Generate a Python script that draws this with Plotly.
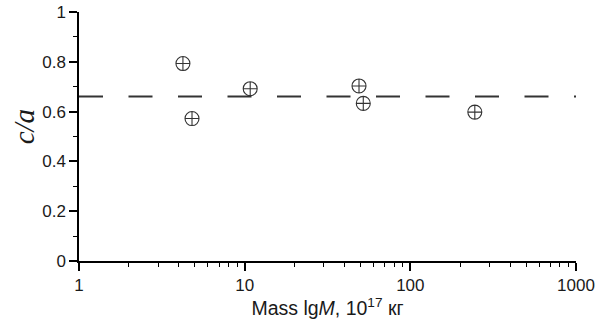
import plotly.graph_objects as go

mass = [4.24, 4.81, 10.8, 49.0, 52.0, 245.0]
ratio = [0.793, 0.572, 0.692, 0.703, 0.633, 0.598]
mean_ratio = 0.661
x_range = [1, 1000]
y_ticks = [0, 0.2, 0.4, 0.6, 0.8, 1]
y_ticklabels = ["0", "0.2", "0.4", "0.6", "0.8", "1"]
x_ticks = [1, 10, 100, 1000]
x_ticklabels = ["1", "10", "100", "1000"]

fig = go.Figure()
fig.add_trace(go.Scatter(
    x=x_range, y=[mean_ratio, mean_ratio], mode="lines",
    line=dict(color="#333333", width=2, dash="24px,25.5px"),
    showlegend=False, hoverinfo="skip"))
fig.add_trace(go.Scatter(
    x=mass, y=ratio, mode="markers",
    marker=dict(symbol="circle-cross-open", size=14, color="#333333",
                line=dict(width=1.1, color="#333333")),
    showlegend=False))

axis_font = dict(family="Liberation Sans, Arial", size=17, color="#1a1a1a")
title_font = dict(family="Liberation Sans, Arial", size=19.5, color="#1a1a1a")
fig.update_layout(
    width=605, height=324,
    margin=dict(l=79, r=29, t=12, b=63),
    paper_bgcolor="white", plot_bgcolor="white",
    xaxis=dict(type="log", range=[0, 3], tickvals=x_ticks, ticktext=x_ticklabels,
               automargin=False,
               showgrid=False, zeroline=False, showline=True, linecolor="black",
               linewidth=1.5, ticks="outside", ticklen=8, tickwidth=1.5,
               tickcolor="black", tickfont=axis_font,
               minor=dict(ticks="outside", ticklen=4, tickwidth=1.2,
                          tickcolor="black", dtick="D1", showgrid=False),
               title=dict(text="Mass lg<i>M</i>, 10<sup>17</sup> кг",
                          font=title_font, standoff=0)),
    yaxis=dict(range=[0, 1], tickvals=y_ticks, ticktext=y_ticklabels,
               automargin=False,
               showgrid=False, zeroline=False, showline=True, linecolor="black",
               linewidth=1.5, ticks="outside", ticklen=8, tickwidth=1.5,
               tickcolor="black", tickfont=axis_font,
               minor=dict(ticks="outside", ticklen=4, tickwidth=1.2,
                          tickcolor="black", dtick=0.1, showgrid=False)),
    annotations=[dict(text="<i>c/a</i>", xref="paper", yref="paper",
                      x=-0.11, y=0.538, xanchor="center", yanchor="middle",
                      textangle=-90, showarrow=False,
                      font=dict(family="Liberation Serif, Times New Roman",
                                size=29, color="#1a1a1a"))],
)
fig.write_html("out.html", config={"displayModeBar": False},
               post_script="document.body.style.margin='0';")
